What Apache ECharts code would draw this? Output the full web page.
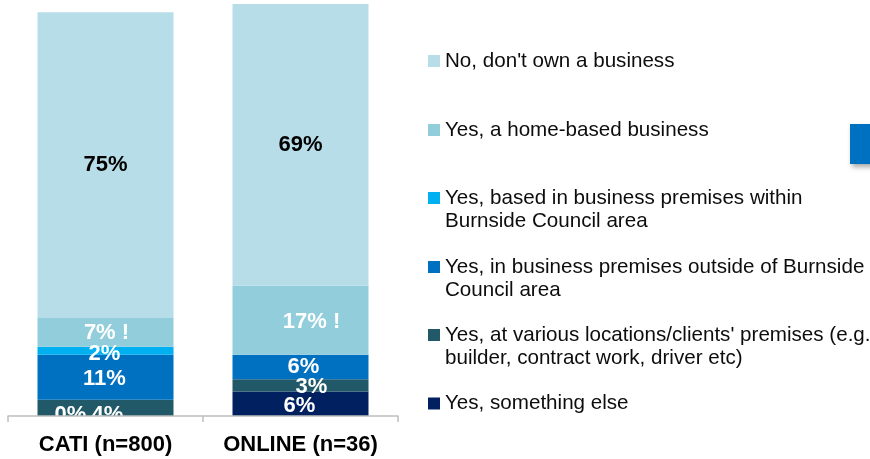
<!DOCTYPE html>
<html>
<head>
<meta charset="utf-8">
<title>Business ownership by survey method</title>
<script src="https://cdn.jsdelivr.net/npm/echarts@6/dist/echarts.min.js"></script>
<style>
  html, body { margin: 0; padding: 0; background: #ffffff; }
  #chart { width: 870px; height: 459px; }
</style>
</head>
<body>
<div id="chart"></div>
<script>
// Survey groups on the x axis
const categories = ['CATI (n=800)', 'ONLINE (n=36)'];

// Response shares (%), listed from the bottom of each stack upwards
const somethingElse = [0, 6];
const variousLocations = [4, 3];
const outsideBurnside = [11, 6];
const withinBurnside = [2, 0];
const homeBased = [7, 17];
const noBusiness = [75, 69];

// Legend wording (same order as the stack, bottom up)
const responseNames = [
  'Yes, something else',
  "Yes, at various locations/clients' premises (e.g.\nbuilder, contract work, driver etc)",
  'Yes, in business premises outside of Burnside\nCouncil area',
  'Yes, based in business premises within\nBurnside Council area',
  'Yes, a home-based business',
  "No, don't own a business"
];

const seriesValues = [somethingElse, variousLocations, outsideBurnside, withinBurnside, homeBased, noBusiness];
const colors = ['#002060', '#215968', '#0070C0', '#00B0F0', '#92CDDC', '#B7DEE8'];

// Small nudges for individual value labels [dx, dy], indexed [series][category]
const labelNudge = [
  [[-35, -1], [-1, 2]],
  [[2, 7], [11, 2]],
  [[-1, 2], [3, 0]],
  [[-1, 3], [0, 0]],
  [[1, 1], [11, 2]],
  [[0, 0], [0, 0]]
];

const FONT = 'Liberation Sans, Arial, sans-serif';

const chart = echarts.init(document.getElementById('chart'), null, { renderer: 'canvas' });

const series = seriesValues.map(function (vals, si) {
  return {
    name: responseNames[si],
    type: 'bar',
    stack: 'total',
    barWidth: 136,
    z: 2,
    itemStyle: { color: colors[si] },
    label: {
      show: true,
      position: 'inside',
      fontFamily: FONT,
      fontWeight: 'bold',
      fontSize: 22,
      color: si === 5 ? '#000000' : '#ffffff',
      formatter: si === 4 ? '{c}% !' : '{c}%'
    },
    data: vals.map(function (v, ci) {
      const item = { value: v, label: { offset: labelNudge[si][ci] } };
      // an empty segment in the online stack carries no label
      if (si === 3 && ci === 1) item.label.show = false;
      return item;
    })
  };
});

// One legend block per response so each entry sits on its own row;
// wrapped entries keep their swatch level with the first line.
const legendRowCentres = [403.5, 335, 267, 198, 130, 61];
const legends = responseNames.map(function (name, si) {
  const twoLine = name.indexOf('\n') >= 0;
  return {
    data: [name],
    orient: 'vertical',
    left: 428,
    top: legendRowCentres[si] - (twoLine ? 34.5 : 11.5),
    padding: 0,
    itemWidth: 12,
    itemHeight: 12,
    icon: 'rect',
    selectedMode: false,
    formatter: function (n) { return twoLine ? ' \n' + n : n; },
    textStyle: {
      fontFamily: FONT,
      fontSize: 20.6,
      color: '#0d0d0d',
      lineHeight: 23
    }
  };
});

chart.setOption({
  animation: false,
  backgroundColor: '#ffffff',
  grid: { left: 8, right: 472, top: 4, bottom: 43, containLabel: false },
  xAxis: {
    type: 'category',
    data: categories,
    boundaryGap: true,
    z: 10,
    axisLine: { show: true, lineStyle: { color: '#BFBFBF', width: 1.5 } },
    axisTick: { show: true, length: 6, lineStyle: { color: '#BFBFBF', width: 1.5 } },
    axisLabel: {
      interval: 0,
      margin: 18,
      fontFamily: FONT,
      fontWeight: 'bold',
      fontSize: 22,
      color: '#000000'
    }
  },
  yAxis: {
    type: 'value',
    min: 0,
    max: 101,
    show: false,
    splitLine: { show: false }
  },
  legend: legends,
  graphic: [
    {
      // white strip under the plot so labels stop at the baseline
      type: 'rect',
      left: 0,
      top: 417,
      z: 5,
      shape: { width: 470, height: 42 },
      style: { fill: '#ffffff' }
    },
    {
      // blue callout tab at the right edge
      type: 'rect',
      right: -6,
      top: 124,
      z: 5,
      shape: { width: 26, height: 40 },
      style: {
        fill: '#0070C0',
        shadowBlur: 5,
        shadowOffsetX: 2,
        shadowOffsetY: 3,
        shadowColor: 'rgba(0,0,0,0.35)'
      }
    }
  ],
  series: series
});
</script>
</body>
</html>
